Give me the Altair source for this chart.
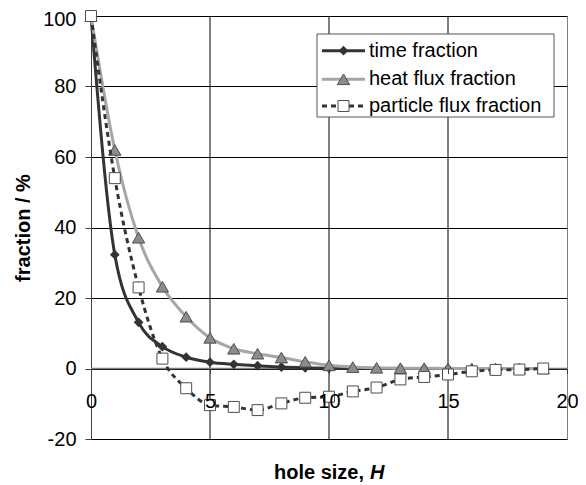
import altair as alt
import pandas as pd

# ---------------- data ----------------
hole_size = list(range(20))
time_fraction = [100, 32.3, 13.1, 6.2, 3.2, 1.8, 1.2, 0.8, 0.4, 0.2,
                 0.1, 0.1, 0.0, 0.0, 0.0, 0.0, 0.0, 0.0, 0.0, 0.0]
heat_flux_fraction = [100, 62.0, 37.1, 23.2, 14.7, 8.7, 5.6, 4.2, 3.1, 1.9,
                      0.9, 0.4, 0.2, 0.1, 0.1, 0.0, 0.0, 0.0, 0.0, 0.0]
particle_flux_fraction = [100, 54.0, 23.0, 2.8, -5.6, -10.4, -10.9, -11.8, -9.9, -8.3,
                          -8.0, -6.5, -5.4, -3.1, -2.4, -1.7, -0.8, -0.4, -0.3, 0.0]
series_names = ["time fraction", "heat flux fraction", "particle flux fraction"]
x_ticks = [0, 5, 10, 15, 20]
y_ticks = [-20, 0, 20, 40, 60, 80, 100]
x_grid = [5, 10, 15]

FONT = "Liberation Sans"
W, H = 476, 423

df_time = pd.DataFrame({"H": hole_size, "value": time_fraction})
df_heat = pd.DataFrame({"H": hole_size, "value": heat_flux_fraction})
df_part = pd.DataFrame({"H": hole_size, "value": particle_flux_fraction})

xs = alt.Scale(domain=[0, 20], nice=False, zero=False)
ys = alt.Scale(domain=[-20, 100], nice=False, zero=False)

x_axis = alt.Axis(values=x_ticks, grid=False, domain=False, offset=-70.5,
                  tickSize=5, tickColor="#404040", labelFontSize=20, labelFont=FONT,
                  labelColor="black", labelPadding=18, labelAngle=0, title=None,
                  zindex=1, labelFlush=False, labelOverlap=False)
y_axis = alt.Axis(values=y_ticks, grid=True, gridColor="black", gridOpacity=1,
                  domainColor="#404040", tickColor="#404040", tickSize=6,
                  labelFontSize=20, labelFont=FONT, labelColor="black", labelPadding=9,
                  labelExpr="toString(datum.value)",
                  labelOffset=alt.condition("datum.value == 100", alt.value(3), alt.value(0)),
                  title="fraction / %", titleFont=FONT, titleFontSize=20,
                  titleFontWeight="bold", titleColor="black", titleAngle=270,
                  titleX=-67.5, titleY=211.5, titleBaseline="middle", titleAlign="center",
                  labelFlush=False)

X = alt.X("H:Q", scale=xs, axis=x_axis)
Y = alt.Y("value:Q", scale=ys, axis=y_axis)

# gridlines / zero line
vgrid = alt.Chart(pd.DataFrame({"H": x_grid})).mark_rule(color="black", strokeWidth=1).encode(
    x=alt.X("H:Q", scale=xs), y=alt.value(0), y2=alt.value(H))
zero_line = alt.Chart(pd.DataFrame({"value": [0]})).mark_rule(color="#808080", strokeWidth=1.5).encode(
    y=alt.Y("value:Q", scale=ys), x=alt.value(0), x2=alt.value(W))

# series
time_line = alt.Chart(df_time).mark_line(color="#333333", strokeWidth=3, interpolate="monotone").encode(x=X, y=Y)
time_pts = alt.Chart(df_time).mark_point(shape="diamond", filled=True, color="#333333", size=95, opacity=1).encode(x=X, y=Y)
heat_line = alt.Chart(df_heat).mark_line(color="#a6a6a6", strokeWidth=3, interpolate="monotone").encode(x=X, y=Y)
heat_pts = alt.Chart(df_heat).mark_point(shape="triangle-up", filled=True, fill="#8c8c8c",
                                         stroke="#4d4d4d", strokeWidth=1, size=150, opacity=1).encode(x=X, y=Y)
part_line = alt.Chart(df_part).mark_line(color="#333333", strokeWidth=3, strokeDash=[5, 4],
                                         interpolate="monotone").encode(x=X, y=Y)
part_pts = alt.Chart(df_part).mark_point(shape="square", filled=True, fill="white",
                                         stroke="#4d4d4d", strokeWidth=1, size=120, opacity=1).encode(x=X, y=Y)

# x axis title (bold, with italic H)
xt1 = alt.Chart(pd.DataFrame({"t": ["hole size,"]})).mark_text(
    font=FONT, fontSize=20, fontWeight="bold", align="right", baseline="alphabetic", color="black"
).encode(x=alt.value(273), y=alt.value(463), text="t:N")
xt2 = alt.Chart(pd.DataFrame({"t": ["H"]})).mark_text(
    font=FONT, fontSize=20, fontWeight="bold", fontStyle="italic", align="left",
    baseline="alphabetic", color="black"
).encode(x=alt.value(279), y=alt.value(463), text="t:N")

# legend
box = alt.Chart(pd.DataFrame({"a": [0]})).mark_rect(fill="white", stroke="#555555", strokeWidth=1).encode(
    x=alt.value(226), x2=alt.value(463), y=alt.value(18), y2=alt.value(101))
rows = [34.7, 63.3, 90]
leg = []
styles = [
    dict(line=dict(color="#333333", strokeWidth=3),
         pt=dict(shape="diamond", filled=True, color="#333333", size=95, opacity=1)),
    dict(line=dict(color="#a6a6a6", strokeWidth=3),
         pt=dict(shape="triangle-up", filled=True, fill="#8c8c8c", stroke="#4d4d4d", strokeWidth=1, size=150, opacity=1)),
    dict(line=dict(color="#333333", strokeWidth=3, strokeDash=[5, 4]),
         pt=dict(shape="square", filled=True, fill="white", stroke="#4d4d4d", strokeWidth=1, size=120, opacity=1)),
]
for name, yy, st in zip(series_names, rows, styles):
    d = pd.DataFrame({"label": [name]})
    leg.append(alt.Chart(d).mark_rule(**st["line"]).encode(x=alt.value(231), x2=alt.value(274), y=alt.value(yy)))
    leg.append(alt.Chart(d).mark_point(**st["pt"]).encode(x=alt.value(252.5), y=alt.value(yy)))
    leg.append(alt.Chart(d).mark_text(font=FONT, fontSize=20, align="left", baseline="middle", color="black").encode(
        x=alt.value(278), y=alt.value(yy), text="label:N"))

chart = alt.layer(
    vgrid, zero_line, time_line, time_pts, heat_line, heat_pts, part_line, part_pts,
    xt1, xt2, box, *leg
).properties(
    width=W, height=H,
    autosize=alt.AutoSizeParams(type="none"),
    padding={"left": 83, "top": 8, "right": 11, "bottom": 46},
    background="white",
).configure_view(stroke="#808080", strokeWidth=1)

chart.save("out.html", embed_options={"renderer": "svg", "actions": False})
